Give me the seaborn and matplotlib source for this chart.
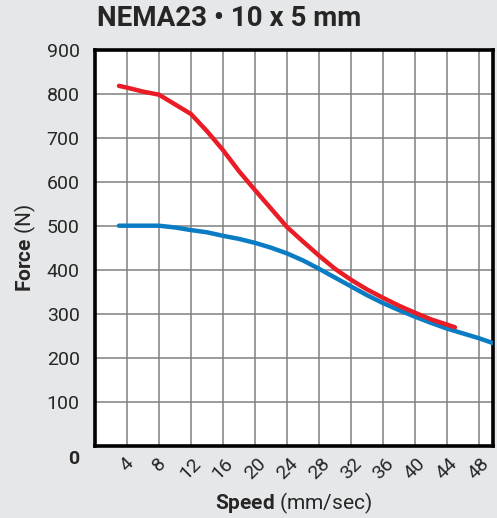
import matplotlib
matplotlib.use("Agg")
import matplotlib.pyplot as plt
import matplotlib.transforms as mtransforms
import seaborn as sns
import pandas as pd

red_speed = [3, 4, 6, 8, 10, 12, 14, 16, 18, 20, 22, 24, 26, 28, 30, 32, 34,
             36, 38, 40, 42, 45]
red_force = [819, 815, 806, 799, 777, 755, 716, 673, 625, 582, 540, 498, 465,
             433, 403, 378, 356, 337, 319, 303, 288, 270]
blue_speed = [3, 8, 10, 12, 14, 16, 18, 20, 22, 24, 26, 28, 30, 32, 34, 36,
              38, 40, 42, 44, 46, 48, 49.75]
blue_force = [501, 501, 497, 491, 486, 478, 471, 462, 451, 438, 422, 403, 383,
              363, 343, 325, 309, 294, 280, 267, 256, 245, 234]
x_ticks = [4, 8, 12, 16, 20, 24, 28, 32, 36, 40, 44, 48]
y_ticks = [0, 100, 200, 300, 400, 500, 600, 700, 800, 900]

sns.set_style("white")
plt.rcParams['font.family'] = ['Roboto', 'DejaVu Sans']
plt.rcParams['mathtext.fontset'] = 'custom'
plt.rcParams['mathtext.rm'] = 'Roboto'
plt.rcParams['mathtext.bf'] = 'Roboto:bold'

bg = '#e6e7e9'
fig = plt.figure(figsize=(4.97, 5.18), dpi=100, facecolor=bg)
ax = fig.add_axes([0.191, 0.139, 0.801, 0.764])
ax.set_facecolor('white')

df_red = pd.DataFrame({'speed': red_speed, 'force': red_force})
df_blue = pd.DataFrame({'speed': blue_speed, 'force': blue_force})
sns.lineplot(data=df_blue, x='speed', y='force', ax=ax, color='#0a7cc4',
             linewidth=3.2, solid_capstyle='round', solid_joinstyle='round',
             zorder=3)
sns.lineplot(data=df_red, x='speed', y='force', ax=ax, color='#ea1c26',
             linewidth=3.2, solid_capstyle='round', solid_joinstyle='round',
             zorder=4)

ax.set_xlim(0, 49.75)
ax.set_ylim(0, 900)
ax.set_xticks(x_ticks)
ax.set_yticks(y_ticks)
ax.grid(True, color='#808080', linewidth=1.1)
ax.tick_params(length=0, labelsize=14)
ax.tick_params(axis='x', pad=6)
ax.tick_params(axis='y', pad=11)
ax.set_xticklabels([str(t) for t in x_ticks], rotation=45, fontsize=14,
                   ha='center')
for sp in ax.spines.values():
    sp.set_color('black')
    sp.set_linewidth(2.6)

# the "0" label sits lower and bold
zero = ax.get_yticklabels()[0]
zero.set_fontweight('bold')
zero.set_transform(zero.get_transform() +
                   mtransforms.ScaledTranslation(0, -0.11, fig.dpi_scale_trans))

ax.set_xlabel(r'$\bf{Speed}$ (mm/sec)', fontsize=15, labelpad=6)
ax.set_ylabel(r'$\bf{Force}$ (N)', fontsize=15, labelpad=6)

fig.text(97 / 497, 1 - 19 / 518, 'NEMA23 \u2022 10 x 5 mm', fontsize=20,
         fontweight='bold', ha='left', va='center')

fig.savefig('out.png', dpi=100, facecolor=bg)
